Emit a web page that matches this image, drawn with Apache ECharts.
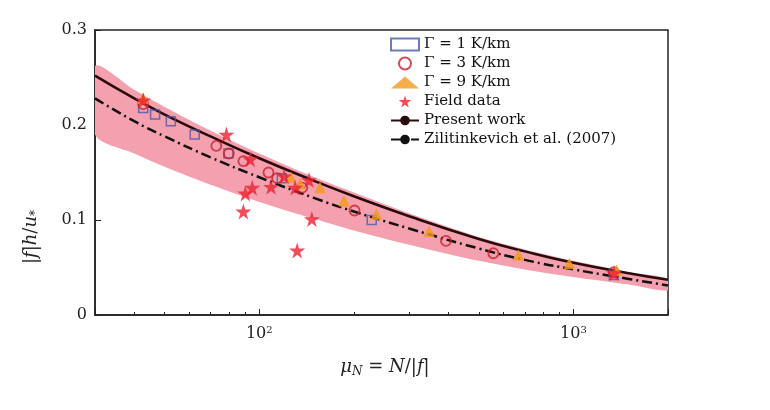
<!DOCTYPE html><html><head><meta charset="utf-8"><script src="https://cdn.jsdelivr.net/npm/echarts@6/dist/echarts.min.js"></script></head><body style="margin:0"><div id="c" style="width:770px;height:410px"></div><script>
const curveX=[30,40,50,70,100,150,200,300,500,700,1000,1500,2000];
const solid=[0.252,0.228,0.211,0.188,0.165,0.141,0.125,0.104,0.080,0.067,0.055,0.044,0.037];
const dashed=[0.228,0.204,0.188,0.166,0.145,0.123,0.109,0.091,0.070,0.058,0.048,0.038,0.031];
const upper=[0.262,0.237,0.219,0.194,0.170,0.145,0.129,0.107,0.082,0.069,0.057,0.045,0.038];
const lower=[0.190,0.170,0.156,0.137,0.119,0.101,0.089,0.074,0.057,0.048,0.040,0.032,0.026];
const g1=[[42.7,0.218],[46.6,0.211],[52.3,0.204],[62.3,0.19],[79.8,0.170],[118,0.144],[228,0.100],[1345,0.042]];
const g3=[[42.7,0.222],[73,0.178],[80,0.170],[89,0.162],[107,0.150],[114,0.144],[137,0.134],[201,0.110],[393,0.078],[556,0.065],[1345,0.045]];
const g9=[[42.7,0.228],[126,0.145],[135,0.138],[156,0.134],[186,0.120],[236,0.106],[347,0.088],[668,0.063],[970,0.054],[1370,0.047]];
const field=[[42.7,0.226],[78.6,0.190],[93.6,0.164],[120,0.146],[144,0.142],[109,0.135],[95,0.134],[90.3,0.128],[89,0.109],[147,0.101],[132,0.068],[130,0.134],[1345,0.044]];
const star='path://M50,0 L61,35 L98,35 L68,57 L79,91 L50,70 L21,91 L32,57 L2,35 L39,35 Z';
const pair=(a)=>curveX.map((x,i)=>[x,a[i]]);
const sup={fontFamily:'DejaVu Serif',fontSize:10,verticalAlign:'top',padding:[0,0,8,0],color:'#222'};
const serif='DejaVu Serif';
echarts.init(document.getElementById('c')).setOption({
animation:false,
grid:{left:95,right:102,top:30,bottom:95,show:true,borderColor:'#222',borderWidth:1.5},
xAxis:{type:'log',min:30,max:2000,logBase:10,axisLine:{lineStyle:{color:'#222',width:1.5}},
 axisTick:{inside:true,length:6,lineStyle:{color:'#222'}},minorTick:{show:true,splitNumber:9,length:3,lineStyle:{color:'#222'}},
 splitLine:{show:false},
 axisLabel:{fontFamily:serif,fontSize:16,color:'#222',margin:10,
  formatter:v=>{const e=Math.round(Math.log10(v));return (Math.abs(Math.log10(v)-e)<1e-6&&v>=100)?'10{s|'+e+'}':'';},rich:{s:sup}}},
yAxis:{type:'value',min:0,max:0.3,interval:0.1,axisLine:{show:true,lineStyle:{color:'#222',width:1.5}},
 axisTick:{inside:true,length:6,lineStyle:{color:'#222'}},splitLine:{show:false},
 axisLabel:{fontFamily:serif,fontSize:16,color:'#222',formatter:v=>v===0?'0':v.toFixed(1)}},
graphic:[
 {type:'text',left:'center',top:358,style:{text:'{i|μ}{sb|N}{n| = }{i|N}{n|/|}{i|f}{n||}',rich:{i:{fontFamily:serif,fontStyle:'italic',fontSize:18,fill:'#222'},n:{fontFamily:serif,fontSize:18,fill:'#222'},sb:{fontFamily:serif,fontStyle:'italic',fontSize:12,fill:'#222',padding:[10,0,0,0]}}}},
 {type:'text',left:22,top:210,rotation:Math.PI/2,style:{text:'{n||}{i|f}{n||}{i|h}{n|/}{i|u}{sb|*}',rich:{i:{fontFamily:serif,fontStyle:'italic',fontSize:18,fill:'#222'},n:{fontFamily:serif,fontSize:18,fill:'#222'},sb:{fontFamily:serif,fontSize:12,fill:'#222',padding:[10,0,0,0]}}}}
],
legend:{orient:'vertical',left:385,top:32,itemGap:4,itemWidth:28,itemHeight:12,
 textStyle:{fontFamily:serif,fontSize:15,color:'#111'},
 data:[{name:'Γ = 1 K/km',icon:'rect'},{name:'Γ = 3 K/km',icon:'circle'},{name:'Γ = 9 K/km',icon:'triangle'},{name:'Field data',icon:star},{name:'Present work'},{name:'Zilitinkevich et al. (2007)'}]},
series:[
{type:'custom',silent:true,z:1,renderItem:(p,api)=>{const pts=[];curveX.forEach((x,i)=>pts.push(api.coord([x,upper[i]])));for(let i=curveX.length-1;i>=0;i--)pts.push(api.coord([curveX[i],lower[i]]));return {type:'polygon',shape:{points:pts,smooth:0.3},style:{fill:'#f4a0ae'}};},data:[0],clip:true},
{name:'Zilitinkevich et al. (2007)',type:'line',z:3,data:pair(dashed),smooth:true,symbol:'none',itemStyle:{color:'#111'},lineStyle:{color:'#111',width:2.5,type:[10,4,2,4]}},
{name:'Present work',type:'line',z:3,data:pair(solid),smooth:true,symbol:'none',itemStyle:{color:'#2a0a0a'},lineStyle:{color:'#2a0a0a',width:2.5}},
{name:'Γ = 1 K/km',type:'scatter',z:4,data:g1,symbol:'rect',symbolSize:9,itemStyle:{color:'rgba(0,0,0,0)',borderColor:'#4a5aa8',borderWidth:1.5}},
{name:'Γ = 3 K/km',type:'scatter',z:4,data:g3,symbol:'circle',symbolSize:10,itemStyle:{color:'rgba(0,0,0,0)',borderColor:'#c8202e',borderWidth:1.8}},
{name:'Γ = 9 K/km',type:'scatter',z:4,data:g9,symbol:'triangle',symbolSize:10,itemStyle:{color:'#f29a1e',borderColor:'#f29a1e'}},
{name:'Field data',type:'scatter',z:5,data:field,symbol:star,symbolSize:16,itemStyle:{color:'#ee2030'}}
]});
</script></body></html>
